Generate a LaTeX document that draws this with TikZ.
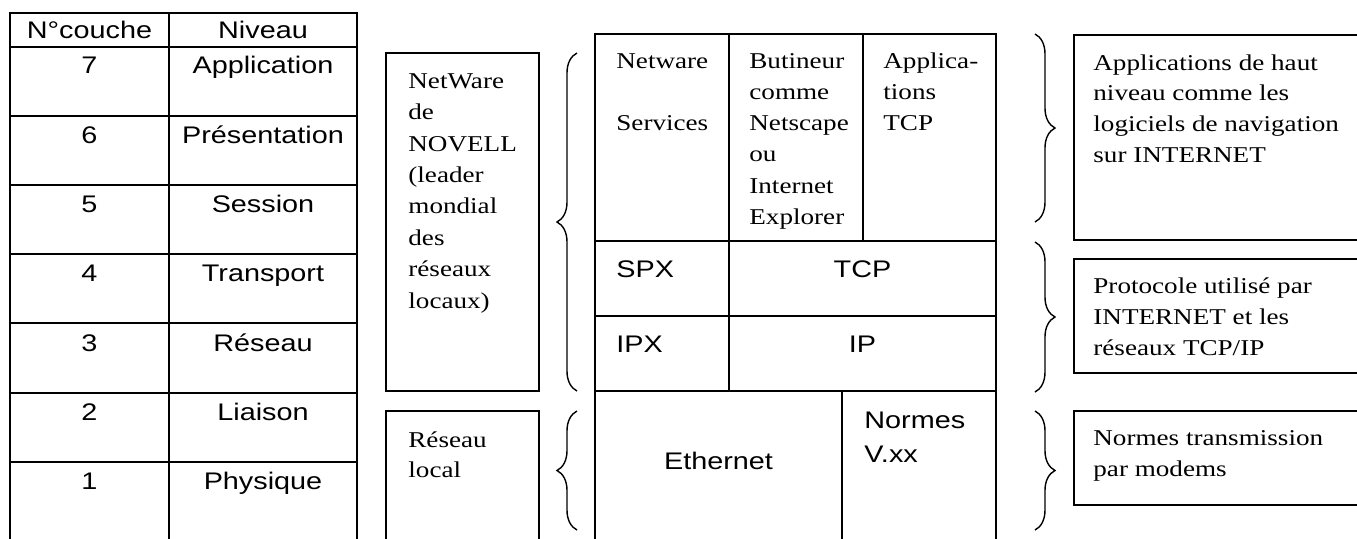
\documentclass[tikz,border=0pt]{standalone}
\usepackage{fontspec}
\setmainfont{Liberation Serif}[FakeStretch=1.2]
\setsansfont{Liberation Sans}[FakeStretch=1.2]
\usepackage{tikz}
\usetikzlibrary{decorations.pathreplacing}

\begin{document}
\begin{tikzpicture}[x=0.5pt, y=-0.5pt,
			frame/.style={draw=black, line width=0.7pt},
			brace/.style={decorate, decoration={brace, amplitude=10pt}, line width=0.7pt},
			cell/.style={font=\sffamily\fontsize{12}{14}\selectfont, inner sep=0pt, anchor=base},
			label/.style={font=\sffamily\fontsize{12}{17}\selectfont, inner sep=0pt, align=left, anchor=base west},
			note/.style={font=\rmfamily\fontsize{11.3}{15.7}\selectfont, inner sep=0pt, align=left, anchor=base west},
			remark/.style={font=\rmfamily\fontsize{11.3}{15.3}\selectfont, inner sep=0pt, align=left, anchor=base west}
			]
			\useasboundingbox (0,0) rectangle (1357,538);
			\clip (0,0) rectangle (1357,538);
			
			% OSI table
			\draw[frame] (10,13) rectangle (357,560);
			\draw[frame] (169,13) -- (169,560);
			\draw[frame] (10,47) -- (357,47);
			\draw[frame] (10,116) -- (357,116);
			\draw[frame] (10,185) -- (357,185);
			\draw[frame] (10,254) -- (357,254);
			\draw[frame] (10,323) -- (357,323);
			\draw[frame] (10,393) -- (357,393);
			\draw[frame] (10,462) -- (357,462);
			\node[cell] (hnum) at (89.5,38) {N°couche};
			\node[cell] (hniv) at (263,38) {Niveau};
			\node[cell] (n7) at (89.5,73) {7};
			\node[cell] (l7) at (263,73) {Application};
			\node[cell] (n6) at (89.5,143) {6};
			\node[cell] (l6) at (263,143) {Présentation};
			\node[cell] (n5) at (89.5,212) {5};
			\node[cell] (l5) at (263,212) {Session};
			\node[cell] (n4) at (89.5,281) {4};
			\node[cell] (l4) at (263,281) {Transport};
			\node[cell] (n3) at (89.5,351) {3};
			\node[cell] (l3) at (263,351) {Réseau};
			\node[cell] (n2) at (89.5,420) {2};
			\node[cell] (l2) at (263,420) {Liaison};
			\node[cell] (n1) at (89.5,489) {1};
			\node[cell] (l1) at (263,489) {Physique};
			
			% Novell / local network boxes (base = last line)
			\draw[frame] (386,53) rectangle (539,391);
			\node[note] (novell) at (408,308) {NetWare\\de\\NOVELL\\(leader\\mondial\\des\\réseaux\\locaux)};
			\draw[frame] (386,411) rectangle (539,560);
			\node[remark, font=\rmfamily\fontsize{11.3}{15}\selectfont] (local) at (408,477) {Réseau\\local};
			
			% Left braces
			\coordinate (lb1a) at (577,391);
			\coordinate (lb1b) at (577,53);
			\coordinate (lb2a) at (577,530);
			\coordinate (lb2b) at (577,411);
			\draw[brace] (lb1a) -- (lb1b);
			\draw[brace] (lb2a) -- (lb2b);
			
			% Protocol stack
			\draw[frame] (595,34) rectangle (996,560);
			\draw[frame] (595,241) -- (996,241);
			\draw[frame] (595,316) -- (996,316);
			\draw[frame] (595,391) -- (996,391);
			\draw[frame] (729,34) -- (729,391);
			\draw[frame] (863,34) -- (863,241);
			\draw[frame] (842,391) -- (842,560);
			\node[note, font=\rmfamily\fontsize{11.3}{15.65}\selectfont] (nws) at (616,130.6) {Netware\\{}\\Services};
			\node[note, font=\rmfamily\fontsize{11.3}{15.65}\selectfont] (brw) at (749,224.5) {Butineur\\comme\\Netscape\\ou\\Internet\\Explorer};
			\node[note, font=\rmfamily\fontsize{11.3}{15.65}\selectfont] (app) at (883,130.6) {Applica-\\tions\\TCP};
			\node[label] (spx) at (616,277) {SPX};
			\node[cell] (tcp) at (862.5,277) {TCP};
			\node[label] (ipx) at (616,352) {IPX};
			\node[cell] (ip) at (862.5,352) {IP};
			\node[cell] (eth) at (718.5,469) {Ethernet};
			\node[label] (vxx) at (864,462) {Normes\\V.xx};
			
			% Right braces
			\coordinate (rb1a) at (1035,34);
			\coordinate (rb1b) at (1035,222);
			\coordinate (rb2a) at (1035,242);
			\coordinate (rb2b) at (1035,392);
			\coordinate (rb3a) at (1035,411);
			\coordinate (rb3b) at (1035,530);
			\draw[brace] (rb1a) -- (rb1b);
			\draw[brace] (rb2a) -- (rb2b);
			\draw[brace] (rb3a) -- (rb3b);
			
			% Comments
			\draw[frame] (1074,35) rectangle (1400,240);
			\node[remark] (cmt1) at (1093,162) {Applications de haut\\niveau comme les\\logiciels de navigation\\sur INTERNET};
			\draw[frame] (1074,259) rectangle (1400,373);
			\node[remark] (cmt2) at (1093,355) {Protocole utilisé par\\INTERNET et les\\réseaux TCP/IP};
			\draw[frame] (1074,411) rectangle (1400,505);
			\node[remark] (cmt3) at (1093,476) {Normes transmission\\par modems};
		\end{tikzpicture}
\end{document}
